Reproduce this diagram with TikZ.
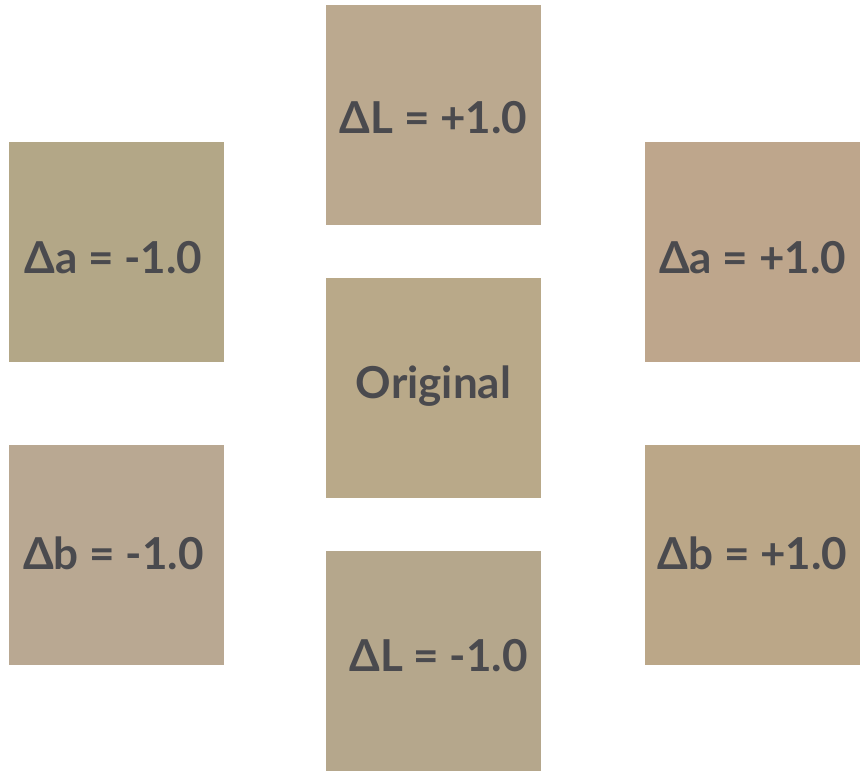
\documentclass[tikz,border=0pt]{standalone}
\usepackage{fontspec}
\setmainfont{Lato}
\usetikzlibrary{positioning}
% couleurs des echantillons
\definecolor{cOrig}{HTML}{B9A989}
\definecolor{cLplus}{HTML}{BBA98F}
\definecolor{cLmoins}{HTML}{B5A78C}
\definecolor{cAmoins}{HTML}{B3A787}
\definecolor{cAplus}{HTML}{BEA68C}
\definecolor{cBmoins}{HTML}{B9A892}
\definecolor{cBplus}{HTML}{BBA788}
\definecolor{texte}{HTML}{4A4A4E}
\tikzset{
  patch/.style = {rectangle, inner sep=0pt, minimum width=215pt, minimum height=220pt},
  etiquette/.style = {inner sep=0pt, text=texte, font=\fontsize{44}{50}\selectfont\bfseries}
}
\begin{document}
\begin{tikzpicture}[x=1pt, y=-1pt]
				% Cadre
				\useasboundingbox [fill=white]	(0,0)	rectangle	(862,774)	;
				% Colonne centrale
				\node [patch, fill=cLplus]	(Lplus)	at (433.5, 114.5)	{}	;
				\node [patch, fill=cOrig]	(orig)	at (433.5, 387.5)	{}	;
				\node [patch, fill=cLmoins]	(Lmoins)	at (433.5, 661)	{}	;
				% Colonne gauche
				\node [patch, fill=cAmoins]	(Amoins)	at (116.5, 252)	{}	;
				\node [patch, fill=cBmoins]	(Bmoins)	at (116.5, 555)	{}	;
				% Colonne droite
				\node [patch, fill=cAplus]	(Aplus)	at (752.5, 252)	{}	;
				\node [patch, fill=cBplus]	(Bplus)	at (752.5, 555)	{}	;
				% Etiquettes
				\node [etiquette, yshift=-3pt]	(tLplus)	at (Lplus)	{ΔL = +1.0}	;
				\node [etiquette, yshift=1pt]	(torig)	at (orig)	{Original}	;
				\node [etiquette, xshift=5pt, yshift=5pt]	(tLmoins)	at (Lmoins)	{ΔL = -1.0}	;
				\node [etiquette, xshift=-3pt, yshift=-6pt]	(tAmoins)	at (Amoins)	{Δa = -1.0}	;
				\node [etiquette, xshift=-3pt, yshift=2pt]	(tBmoins)	at (Bmoins)	{Δb = -1.0}	;
				\node [etiquette, yshift=-6pt]	(tAplus)	at (Aplus)	{Δa = +1.0}	;
				\node [etiquette, yshift=2pt]	(tBplus)	at (Bplus)	{Δb = +1.0}	;
			\end{tikzpicture}
\end{document}
